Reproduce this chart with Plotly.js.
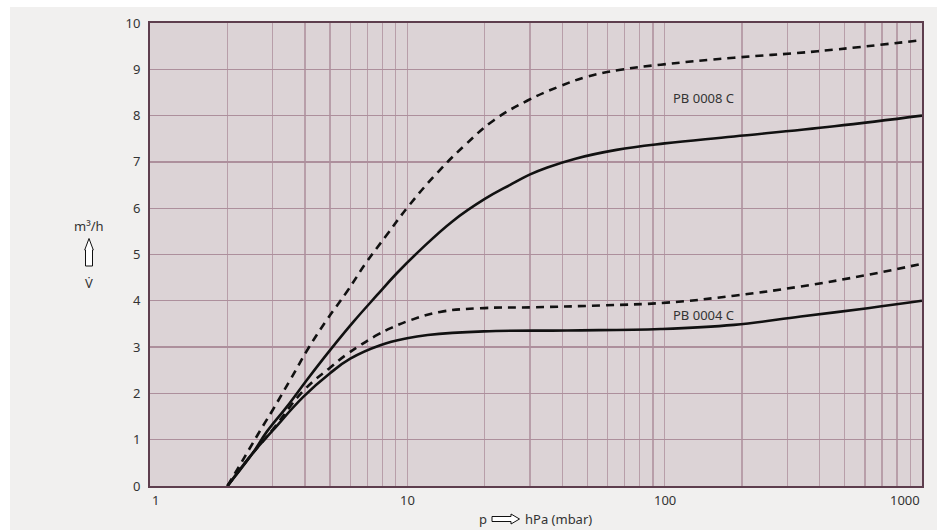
<!DOCTYPE html>
<html>
<head>
<meta charset="utf-8">
<script src="https://cdn.plot.ly/plotly-3.0.1.min.js"></script>
<style>
  html, body { margin: 0; padding: 0; background: #ffffff; }
  #panel { position: absolute; left: 10px; top: 7px; width: 927px; height: 523px; background: #f1f0ef; }
  #chart { position: absolute; left: 0; top: 0; width: 944px; height: 530px; }
</style>
</head>
<body>
<div id="panel"></div>
<div id="chart"></div>
<script>
// ---- data ----
const pb0008DashedP = [2, 2.34, 2.75, 2.975, 3.505, 4.13, 4.87, 5.83, 6.97, 8.34, 10.12, 13, 16.8, 21.7, 29.2, 39.4, 50, 67.4, 96.5, 186, 393, 1000];
const pb0008DashedV = [0, 0.64, 1.3, 1.61, 2.29, 2.98, 3.59, 4.20, 4.85, 5.43, 6.05, 6.75, 7.37, 7.9, 8.32, 8.64, 8.84, 8.99, 9.10, 9.25, 9.39, 9.63];

const pb0008SolidP = [2, 2.5, 2.85, 3.4, 4.07, 5.02, 6.18, 7.62, 9.12, 11.24, 15, 20, 25, 30, 35, 45, 65, 100, 186, 456, 1000];
const pb0008SolidV = [0, 0.7, 1.18, 1.71, 2.29, 2.94, 3.55, 4.12, 4.6, 5.1, 5.72, 6.2, 6.5, 6.73, 6.88, 7.07, 7.26, 7.4, 7.55, 7.77, 8.0];

const pb0004DashedP = [2, 2.5, 3, 3.95, 5.02, 5.74, 6.56, 7.51, 8.71, 10.27, 13.4, 19.2, 31, 56.4, 102, 186, 338, 615, 1000];
const pb0004DashedV = [0, 0.7, 1.22, 2.06, 2.56, 2.82, 3.04, 3.24, 3.42, 3.58, 3.76, 3.84, 3.86, 3.90, 3.96, 4.11, 4.31, 4.56, 4.8];

const pb0004SolidP = [2, 2.5, 3, 3.95, 5.02, 6.0, 7.85, 9.97, 12, 19.8, 41.8, 96.5, 186, 338, 615, 1000];
const pb0004SolidV = [0, 0.7, 1.2, 1.93, 2.44, 2.75, 3.04, 3.19, 3.26, 3.34, 3.36, 3.39, 3.48, 3.66, 3.84, 4.0];

const seriesNames = ["PB 0008 C", "PB 0004 C"];
const seriesLabelP = [142, 142];
const seriesLabelV = [8.37, 3.70];

const xTickVals = [1, 10, 100, 1000];
const xTickText = ["1", "10", "100", "1000"];
const yTickVals = [0, 1, 2, 3, 4, 5, 6, 7, 8, 9, 10];
const yTickText = ["0", "1", "2", "3", "4", "5", "6", "7", "8", "9", "10"];
const xGridVals = [];
[1, 10, 100].forEach(d => { for (let k = 1; k < 10; k++) xGridVals.push(d * k); });
xGridVals.push(1000);

const yAxisTitle = "m³/h";
const yAxisSymbol = "V\u0307";
const xAxisTitleLeft = "p";
const xAxisTitleRight = "hPa (mbar)";

// ---- layout geometry ----
const W = 944, H = 530;
const M = { l: 150, r: 22, t: 23, b: 44 };
const PW = W - M.l - M.r, PH = H - M.t - M.b;
const fx = px => (px - M.l) / PW;          // pixel -> paper x
const fy = py => (H - M.b - py) / PH;      // pixel -> paper y

const FONT = "Noto Sans, Open Sans, sans-serif";
const TXT = "#333333";

const lineStyle = (dash) => ({ color: "#111111", width: 2.6, dash: dash, shape: "spline", smoothing: 1.2 });

const traces = [
  { x: pb0008DashedP, y: pb0008DashedV, mode: "lines", line: lineStyle("8px,6px"), hoverinfo: "skip" },
  { x: pb0008SolidP, y: pb0008SolidV, mode: "lines", line: lineStyle("solid"), hoverinfo: "skip" },
  { x: pb0004DashedP, y: pb0004DashedV, mode: "lines", line: lineStyle("8px,6px"), hoverinfo: "skip" },
  { x: pb0004SolidP, y: pb0004SolidV, mode: "lines", line: lineStyle("solid"), hoverinfo: "skip" }
];

const annotations = [];
// x tick labels
xTickVals.forEach((v, i) => {
  const anchor = i === 0 ? "left" : (i === xTickVals.length - 1 ? "right" : "center");
  annotations.push({
    x: Math.log10(v), xref: "x", y: 0, yref: "paper", yshift: -14,
    xanchor: anchor, yanchor: "middle", showarrow: false,
    text: xTickText[i], font: { family: FONT, size: 13, color: TXT }
  });
});
// series labels
seriesNames.forEach((n, i) => {
  annotations.push({
    x: Math.log10(seriesLabelP[i]), xref: "x", y: seriesLabelV[i], yref: "y",
    xanchor: "center", yanchor: "middle", showarrow: false,
    text: n, font: { family: FONT, size: 13, color: TXT }
  });
});
// y axis title pieces
annotations.push({ x: fx(89), y: fy(226), xref: "paper", yref: "paper", showarrow: false,
  xanchor: "center", yanchor: "middle", text: yAxisTitle, font: { family: FONT, size: 13, color: TXT } });
annotations.push({ x: fx(89), y: fy(283), xref: "paper", yref: "paper", showarrow: false,
  xanchor: "center", yanchor: "middle", text: yAxisSymbol, font: { family: FONT, size: 13, color: TXT } });
// x axis title pieces
annotations.push({ x: fx(483), y: fy(519), xref: "paper", yref: "paper", showarrow: false,
  xanchor: "center", yanchor: "middle", text: xAxisTitleLeft, font: { family: FONT, size: 13, color: TXT } });
annotations.push({ x: fx(523), y: fy(519), xref: "paper", yref: "paper", showarrow: false,
  xanchor: "left", yanchor: "middle", text: xAxisTitleRight, font: { family: FONT, size: 13, color: TXT } });

function pathFromPx(pts) {
  return "M" + pts.map(p => fx(p[0]) + "," + fy(p[1])).join(" L") + " Z";
}
// hollow arrows (decorations)
const upArrow = pathFromPx([[89, 238.5], [93.3, 250], [92.5, 250], [92.5, 266], [85.5, 266], [85.5, 250], [84.7, 250]]);
const rightArrow = pathFromPx([[492, 516.5], [511, 516.5], [511, 514], [519.5, 519], [511, 524], [511, 521.5], [492, 521.5]]);

const shapes = [
  { type: "path", xref: "paper", yref: "paper", path: upArrow, fillcolor: "#ffffff", line: { color: "#111", width: 1 } },
  { type: "path", xref: "paper", yref: "paper", path: rightArrow, fillcolor: "#ffffff", line: { color: "#111", width: 1 } }
];

const layout = {
  width: W, height: H,
  margin: M,
  paper_bgcolor: "rgba(0,0,0,0)",
  plot_bgcolor: "#dcd3d6",
  showlegend: false,
  font: { family: FONT, size: 13, color: TXT },
  xaxis: {
    type: "log", range: [0, 3],
    tickmode: "array", tickvals: xGridVals, showticklabels: false, ticks: "",
    showgrid: true, gridcolor: "#b89ea9", gridwidth: 1.3,
    showline: true, linecolor: "#5e3e4e", linewidth: 2, mirror: true, zeroline: false,
    fixedrange: true
  },
  yaxis: {
    range: [0, 10],
    tickmode: "array", tickvals: yTickVals, ticktext: yTickText, ticks: "",
    ticklabelstandoff: 5,
    tickfont: { family: FONT, size: 13, color: TXT },
    showgrid: true, gridcolor: "#ad8f9c", gridwidth: 1.3,
    showline: true, linecolor: "#5e3e4e", linewidth: 2, mirror: true, zeroline: false,
    fixedrange: true
  },
  annotations: annotations,
  shapes: shapes
};

Plotly.newPlot("chart", traces, layout, { staticPlot: true, displayModeBar: false });
</script>
</body>
</html>
